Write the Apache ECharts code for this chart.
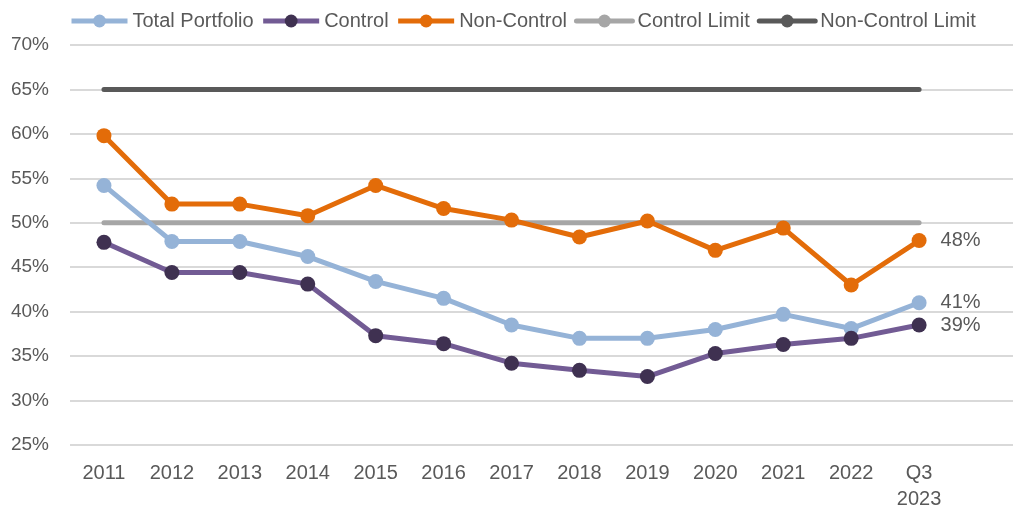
<!DOCTYPE html>
<html>
<head>
<meta charset="utf-8">
<script src="https://cdn.jsdelivr.net/npm/echarts@6/dist/echarts.min.js"></script>
<style>
html,body{margin:0;padding:0;background:#fff;}
#chart{width:1013px;height:510px;}
</style>
</head>
<body>
<div id="chart"></div>
<script>
const categories = ['2011','2012','2013','2014','2015','2016','2017','2018','2019','2020','2021','2022','Q3\n2023',''];
const totalPortfolio = [54.2,47.9,47.9,46.2,43.4,41.5,38.5,37.0,37.0,38.0,39.7,38.1,41.0];
const control = [47.8,44.4,44.4,43.1,37.3,36.4,34.2,33.4,32.7,35.3,36.3,37.0,38.5];
const nonControl = [59.8,52.1,52.1,50.8,54.2,51.6,50.3,48.4,50.2,46.9,49.4,43.0,48.0];
const controlLimit = [50,50,50,50,50,50,50,50,50,50,50,50,50];
const nonControlLimit = [65,65,65,65,65,65,65,65,65,65,65,65,65];
const yTicks = {min:25, max:70, interval:5};

const font = 'Liberation Sans, Arial, sans-serif';
const txt = '#595959';

function lastLabel(arr){
  return arr.map((v,i)=> i===arr.length-1 ? {value:v,label:{show:true,position:'right',distance:14,formatter:p=>Math.round(p.value)+'%',color:txt,fontSize:20,fontFamily:font}} : v);
}

const chart = echarts.init(document.getElementById('chart'));
chart.setOption({
  animation:false,
  backgroundColor:'#fff',
  textStyle:{fontFamily:font},
  legend:{
    top:6,left:64,
    itemWidth:56,itemHeight:16,itemGap:7,
    lineStyle:{width:5},
    textStyle:{color:txt,fontSize:20,fontFamily:font},
    data:['Total Portfolio','Control','Non-Control','Control Limit','Non-Control Limit']
  },
  grid:{left:70,right:-8,top:45,bottom:65,containLabel:false,outerBoundsMode:'none'},
  xAxis:{
    type:'category',
    data:categories,
    boundaryGap:true,
    axisLine:{show:false},
    axisTick:{show:false},
    axisLabel:{color:txt,fontSize:20,fontFamily:font,margin:15,lineHeight:26,interval:0}
  },
  yAxis:{
    type:'value',
    min:yTicks.min,max:yTicks.max,interval:yTicks.interval,
    axisLine:{show:false},axisTick:{show:false},
    axisLabel:{color:txt,fontSize:19,fontFamily:font,formatter:'{value}%',margin:21},
    splitLine:{lineStyle:{color:'#D9D9D9',width:2}}
  },
  series:[
    {name:'Control Limit',type:'line',data:controlLimit,symbol:'none',color:'#A6A6A6',lineStyle:{width:5,color:'#A6A6A6',cap:'round'},z:1},
    {name:'Non-Control Limit',type:'line',data:nonControlLimit,symbol:'none',color:'#595959',lineStyle:{width:5,color:'#595959',cap:'round'},z:1},
    {name:'Total Portfolio',type:'line',data:lastLabel(totalPortfolio),symbol:'circle',symbolSize:15,color:'#95B3D7',lineStyle:{width:5,color:'#95B3D7'},itemStyle:{color:'#95B3D7'},z:3},
    {name:'Control',type:'line',data:lastLabel(control),symbol:'circle',symbolSize:15,color:'#3F3151',lineStyle:{width:5,color:'#725B94'},itemStyle:{color:'#3F3151'},z:3},
    {name:'Non-Control',type:'line',data:lastLabel(nonControl),symbol:'circle',symbolSize:15,color:'#E36C09',lineStyle:{width:5,color:'#E36C09'},itemStyle:{color:'#E36C09'},z:2}
  ]
});
</script>
</body>
</html>
